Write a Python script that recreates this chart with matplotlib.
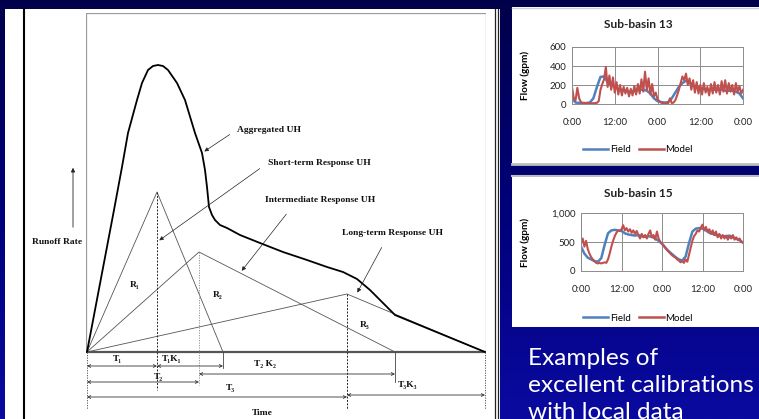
import numpy as np
import matplotlib
matplotlib.use("Agg")
from matplotlib import pyplot as plt
from matplotlib.patches import Rectangle
from matplotlib.colors import LinearSegmentedColormap

W, H = 759, 419

# component unit hydrographs (time units, runoff units)
short_t = [0, 70, 136]
short_q = [0, 160, 0]
inter_t = [0, 112, 308]
inter_q = [0, 100, 0]
long_t = [0, 260, 398]
long_q = [0, 58, 0]

# aggregated unit hydrograph
agg_t = [0, 27, 35, 41, 50, 55, 61, 66, 71, 76, 81, 90, 98, 108, 115, 118, 120, 122,
         125, 128, 133, 140, 153, 173, 196, 220, 240, 256, 270, 283, 296, 308, 398]
agg_q = [0, 142, 185, 219, 252, 269, 282, 286, 287, 286, 282, 269, 252, 219, 199, 182, 165, 145,
         137, 132, 127, 124, 117, 109, 100, 92, 85, 80, 73, 62, 49, 37, 0]

# field vs model flow, two days
hours_field = np.arange(0, 49, 1)
hours_model = np.arange(0, 48.5, 0.5)

field_13 = [60, 15, 12, 10, 10, 15, 60, 180, 285, 290, 230, 200, 180, 160, 150, 140, 130, 130,
            140, 150, 150, 140, 110, 60, 30, 20, 15, 20, 60, 120, 180, 220, 245, 230, 200, 180,
            170, 160, 150, 150, 150, 150, 150, 140, 140, 140, 130, 110, 60]
model_13 = [180, 60, 40, 170, 60, 20, 10, 8, 8, 8, 8, 8, 8, 10, 12, 30, 150, 210, 260, 390,
            180, 300, 150, 280, 120, 230, 100, 200, 90, 180, 110, 170, 80, 160, 90, 190, 100, 210,
            110, 260, 130, 340, 150, 270, 100, 210, 80, 120, 50, 30, 15, 8, 8, 10, 8, 60,
            10, 15, 40, 90, 150, 220, 290, 250, 320, 200, 270, 150, 250, 120, 230, 110, 200, 100,
            220, 120, 180, 90, 210, 110, 230, 120, 200, 100, 240, 130, 250, 110, 220, 130, 200,
            100, 220, 130, 190, 110, 150]

field_15 = [420, 300, 230, 200, 170, 160, 220, 450, 650, 700, 710, 700, 690, 650, 630, 620, 610,
            620, 600, 590, 600, 590, 560, 520, 470, 400, 340, 290, 240, 200, 180, 250, 480, 680,
            730, 740, 730, 700, 660, 640, 620, 610, 600, 600, 610, 580, 560, 530, 490]
model_15 = [470, 560, 420, 520, 380, 300, 240, 200, 170, 140, 130, 140, 130, 140, 150, 140, 200,
            300, 420, 520, 600, 660, 700, 690, 720, 790, 700, 740, 680, 720, 660, 700, 640, 690,
            620, 560, 640, 580, 620, 560, 640, 700, 580, 620, 540, 680, 560, 500, 470, 440, 400,
            360, 330, 300, 270, 250, 230, 200, 180, 150, 170, 140, 200, 160, 280, 400, 520, 600,
            640, 700, 680, 750, 800, 700, 760, 680, 720, 640, 700, 620, 680, 580, 640, 560, 620,
            560, 610, 540, 600, 560, 620, 540, 580, 530, 560, 500, 490]

time_ticks = [0, 12, 24, 36, 48]
time_labels = ["0:00", "12:00", "0:00", "12:00", "0:00"]

FIELD_C = "#4f81bd"
MODEL_C = "#c0504d"

fig = plt.figure(figsize=(W / 100, H / 100), dpi=100)

# slide background
bg = fig.add_axes([0, 0, 1, 1])
bg.set_xlim(0, W)
bg.set_ylim(H, 0)
bg.axis("off")
cmap = LinearSegmentedColormap.from_list("slide", ["#00004a", "#00007a", "#0a0aa0"])
grad = np.linspace(0, 1, 256).reshape(-1, 1)
bg.imshow(grad, cmap=cmap, aspect="auto", extent=[0, W, H, 0], zorder=0)

bg.add_patch(Rectangle((5, 9), 495, 412, facecolor="white", edgecolor="none", zorder=1))
bg.plot([24, 24], [9, 419], color="black", lw=1.5, zorder=2)
bg.plot([495, 495], [9, 419], color="#222222", lw=0.9, zorder=2)
bg.plot([497.8, 497.8], [9, 419], color="#222222", lw=0.9, zorder=2)
bg.add_patch(Rectangle((512, 7), 250, 158, facecolor="white", edgecolor="none", zorder=1))
bg.plot([512, 759], [164.5, 164.5], color="#bdbdbd", lw=2, zorder=2)
bg.plot([512, 759], [8.5, 8.5], color="#cfcfcf", lw=1, zorder=2)
bg.add_patch(Rectangle((512, 175), 250, 152, facecolor="white", edgecolor="none", zorder=1))
bg.plot([512, 759], [176, 176], color="#bdbdbd", lw=1.5, zorder=2)

fig.text(528 / W, 1 - 348 / H, "Examples of\nexcellent calibrations\nwith local data",
         color="white", fontsize=17.6, family="Lato", va="top", ha="left", linespacing=1.34)

# --- unit hydrograph diagram ---
ax = fig.add_axes([86 / W, 0, 400 / W, 406 / H])
ax.set_xlim(-1, 399)
ax.set_ylim(-67, 339)
ax.axis("off")

serif = dict(family=["Liberation Serif", "DejaVu Serif"], fontweight="bold", fontsize=6.8, color="#111111")

ax.plot([-1, -1, 399, 399], [0, 339, 339, 0], color="#9a9a9a", lw=0.9)
ax.plot([-1, 399], [0, 0], color="#555555", lw=1.6)

for t, q in [(short_t, short_q), (inter_t, inter_q), (long_t, long_q)]:
    ax.plot(t, q, color="#555555", lw=0.6)
ax.plot(agg_t, agg_q, color="black", lw=1.3, solid_capstyle="round", solid_joinstyle="round")

# guide lines at the peaks and ends
ax.plot([0, 0], [0, -57], color="#444444", lw=0.6, ls=(0, (1.5, 1.5)))
ax.plot([short_t[1]] * 2, [short_q[1], -38], color="#222222", lw=0.7, ls=(0, (2, 1.5)))
ax.plot([inter_t[1]] * 2, [inter_q[1], -33], color="#888888", lw=0.6, ls=(0, (1.5, 1.5)))
ax.plot([long_t[1]] * 2, [long_q[1], -57], color="#222222", lw=0.7, ls=(0, (2, 1.5)))
ax.plot([long_t[2]] * 2, [0, -57], color="#444444", lw=0.6, ls=(0, (1.5, 1.5)))
ax.plot([short_t[2]] * 2, [0, -16], color="#444444", lw=0.6)
ax.plot([inter_t[2]] * 2, [0, -30], color="#444444", lw=0.6)

ax.text(48, 67, "R\u2081", ha="center", va="center", **serif)
ax.text(131, 57, "R\u2082", ha="center", va="center", **serif)
ax.text(278, 27, "R\u2083", ha="center", va="center", **serif)

# labelled pointers
pointers = [
    ("Aggregated UH", (150, 222), (145, 219), (115, 199)),
    ("Short-term Response UH", (181, 189), (175, 185), (70, 110)),
    ("Intermediate Response UH", (178, 152), (201, 140), (153, 79)),
    ("Long-term Response UH", (255, 119), (296, 107), (269, 57)),
]
for label, pos, start, tip in pointers:
    ax.text(pos[0], pos[1], label, ha="left", va="center", **serif)
    ax.annotate("", xy=tip, xytext=start,
                arrowprops=dict(arrowstyle="-|>", color="#222222", lw=0.5, mutation_scale=6))

ax.annotate("", xy=(-14, 187), xytext=(-14, 122), annotation_clip=False,
            arrowprops=dict(arrowstyle="-|>", color="#222222", lw=0.6, mutation_scale=6))
ax.text(-55, 110, "Runoff Rate", ha="left", va="center", clip_on=False, **serif)

# time spans below the axis
spans = [
    ("T\u2081", 0, 70, -14, 30, -7),
    ("T\u2081K\u2081", 70, 136, -14, 85, -7),
    ("T\u2082", 0, 112, -30, 71, -25),
    ("T\u2082 K\u2082", 112, 308, -22, 178, -12),
    ("T\u2083", 0, 260, -45, 143, -36),
    ("T\u2083K\u2083", 260, 398, -43, 321, -33),
]
for label, t0, t1, q, lt, lq in spans:
    ax.annotate("", xy=(t1, q), xytext=(t0, q),
                arrowprops=dict(arrowstyle="<->", color="#333333", lw=0.6, mutation_scale=5,
                                shrinkA=0, shrinkB=0))
    ax.text(lt, lq, label, ha="center", va="center", **serif)
ax.text(175, -61, "Time", ha="center", va="center", **serif)

# --- field vs model charts ---
sans = "Lato"


def flow_chart(rect, field, model, ymax, yticks, ylabels, title, title_y, legend_y):
    c = fig.add_axes(rect)
    c.plot(hours_field, field, color=FIELD_C, lw=1.8)
    c.plot(hours_model, model, color=MODEL_C, lw=1.5)
    c.set_xlim(0, 48)
    c.set_ylim(0, ymax)
    c.set_xticks(time_ticks)
    c.set_xticklabels(time_labels)
    c.set_yticks(yticks)
    c.set_yticklabels(ylabels)
    c.grid(True, color="#8c8c8c", lw=0.7)
    c.set_axisbelow(True)
    for s in c.spines.values():
        s.set_color("#8c8c8c")
        s.set_linewidth(0.7)
    c.tick_params(length=0, labelsize=7, pad=4, labelcolor="#222222")
    c.tick_params(axis="x", pad=10)
    for lab in c.get_xticklabels() + c.get_yticklabels():
        lab.set_family(sans)
    c.set_ylabel("Flow (gpm)", fontsize=7.2, fontweight="bold", family=sans)
    # y label sits at the same slide position for both charts
    left_px = rect[0] * W
    width_px = rect[2] * W
    c.yaxis.set_label_coords((530 - left_px) / width_px, 0.5)
    fig.text(638 / W, 1 - title_y / H, title, ha="center", va="center",
             fontsize=8.6, fontweight="bold", family=sans, color="#222222")
    h1, = c.plot([], [], color=FIELD_C, lw=1.8, label="Field")
    h2, = c.plot([], [], color=MODEL_C, lw=1.8, label="Model")
    fig.legend(handles=[h1, h2], loc="center", bbox_to_anchor=(638 / W, 1 - legend_y / H),
               ncol=2, frameon=False, handlelength=2.6, handletextpad=0.15, columnspacing=0.8,
               prop=dict(family=sans, size=7))
    return c


flow_chart([572 / W, 1 - 104 / H, 171 / W, 57 / H], field_13, model_13, 600,
           [0, 200, 400, 600], ["0", "200", "400", "600"], "Sub-basin 13", 25, 150)
flow_chart([581 / W, 1 - 271 / H, 162 / W, 58 / H], field_15, model_15, 1000,
           [0, 500, 1000], ["0", "500", "1,000"], "Sub-basin 15", 193, 318)

fig.savefig("out.png", dpi=100)
